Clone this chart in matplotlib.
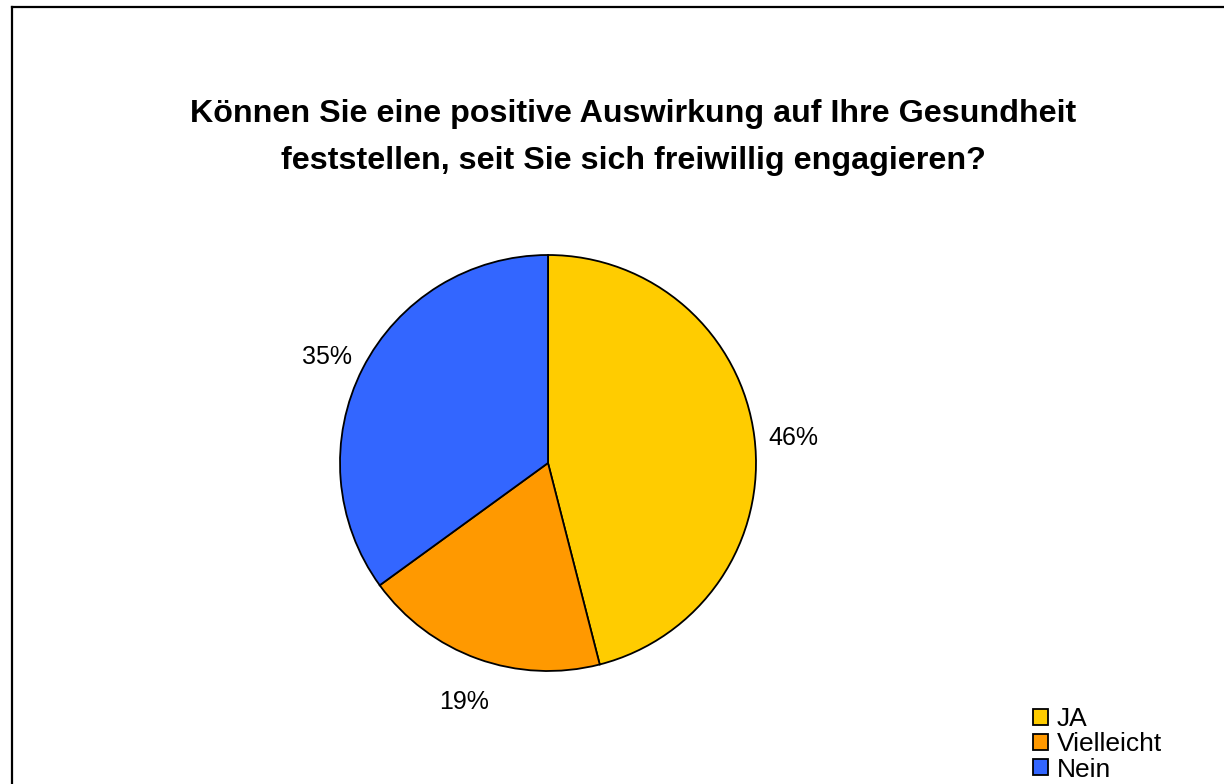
import matplotlib
matplotlib.use("Agg")
import matplotlib.pyplot as plt
from matplotlib.lines import Line2D
from matplotlib.patches import Patch
from matplotlib.transforms import ScaledTranslation

plt.rcParams['font.family'] = ['Liberation Sans', 'DejaVu Sans']

categories = ["JA", "Vielleicht", "Nein"]
values = [46, 19, 35]
colors = ["#FFCC00", "#FF9900", "#3366FF"]
title = "Können Sie eine positive Auswirkung auf Ihre Gesundheit\nfeststellen, seit Sie sich freiwillig engagieren?"

W, H = 1224, 784
fig = plt.figure(figsize=(W / 100, H / 100), dpi=100)

cx, cy, r = 548, 463, 208
ax = fig.add_axes([(cx - r) / W, (H - cy - r) / H, 2 * r / W, 2 * r / H])
wedges, texts, autotexts = ax.pie(
    values, colors=colors, startangle=90, counterclock=False,
    autopct='%1.0f%%', pctdistance=1.19,
    wedgeprops=dict(edgecolor='black', linewidth=1.3),
    textprops=dict(fontsize=18, color='black'))
for t in autotexts:
    t.set_transform(t.get_transform() + ScaledTranslation(0, -6 / 100, fig.dpi_scale_trans))
ax.set_xlim(-1, 1)
ax.set_ylim(-1, 1)
ax.set_aspect('equal')
ax.axis('off')

fig.text(633 / W, 1 - 137.5 / H, title, ha='center', va='center',
         fontsize=23.2, fontweight='bold', linespacing=1.72, multialignment='center')

handles = [Patch(facecolor=c, edgecolor='black', linewidth=1.3) for c in colors]
leg = fig.legend(handles, categories, loc='upper left',
                 bbox_to_anchor=(1033 / W, 1 - 707 / H), frameon=False,
                 fontsize=19, handlelength=0.55, handleheight=0.55,
                 handletextpad=0.35, labelspacing=0.05, borderpad=0, borderaxespad=0)

fig.add_artist(Line2D([12 / W, 12 / W], [0, 1 - 7 / H], transform=fig.transFigure,
                      color='black', linewidth=1.6))
fig.add_artist(Line2D([12 / W, 1], [1 - 7 / H, 1 - 7 / H], transform=fig.transFigure,
                      color='black', linewidth=1.6))

fig.savefig("out.png", dpi=100)
